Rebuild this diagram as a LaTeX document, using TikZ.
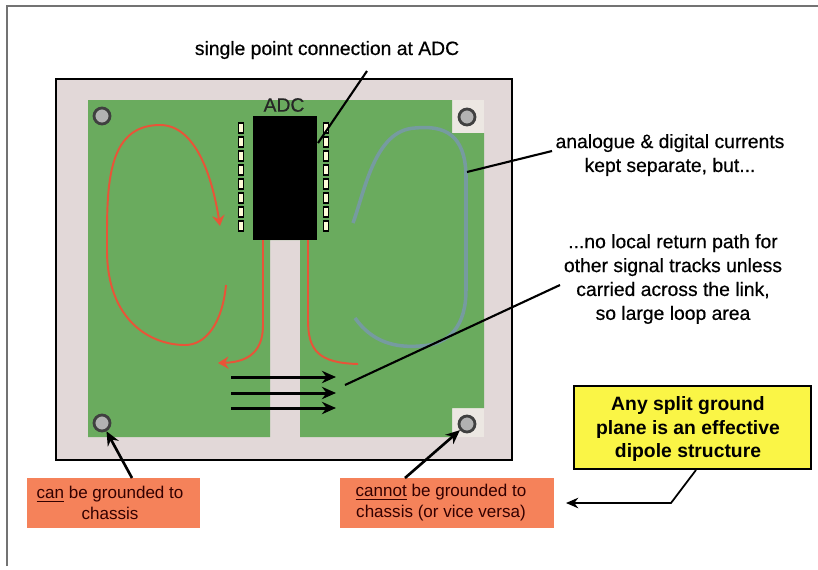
\documentclass[tikz,border=0pt]{standalone}
\usepackage{fontspec}
\setmainfont{Liberation Sans}
\newfontfamily\heavyfont{Liberation Sans}[FakeBold=0.5]
\usetikzlibrary{arrows.meta}
\definecolor{cboard}{RGB}{226,216,216}
\definecolor{cnotch}{RGB}{236,231,226}
\definecolor{cplane}{RGB}{106,171,94}
\definecolor{cnote}{RGB}{245,130,90}
\definecolor{cred}{RGB}{232,84,56}
\definecolor{cblue}{RGB}{118,155,160}
\definecolor{cyell}{RGB}{250,245,70}

\begin{document}
\begin{tikzpicture}[x=0.02cm, y=-0.02cm, font=\heavyfont\fontsize{11pt}{13.6pt}\selectfont,
    hole/.style={circle, draw=black!75, line width=1.6pt, fill=black!30, inner sep=0pt, minimum size=0.32cm},
    pad/.style={draw=black, line width=0.9pt, fill=white!85!yellow, inner sep=0pt, minimum width=0.1cm, minimum height=0.19cm},
    lbl/.style={align=center, text=black, inner sep=0pt},
    note/.style={fill=cnote, inner sep=0pt},
    notetext/.style={align=center, inner sep=0pt, font=\fontsize{9.7pt}{12pt}\selectfont, text=black!80!red},
    leader/.style={line width=1.2pt},
    pointer/.style={line width=1.5pt, -{Stealth[length=8pt, width=7pt]}},
    current/.style={cred, line width=1.1pt, -{Stealth[length=6pt, width=7pt]}},
    signal/.style={line width=1.7pt, -{Stealth[length=8pt, width=7pt]}}]

  \useasboundingbox (0,0) rectangle (818,569);
  \fill[white] (0,0) rectangle (818,569);
  \draw[black!55, line width=0.9pt] (7,566) -- (7,6) -- (818,6);

  % --- board and ground plane ---
  \draw[fill=cboard, line width=1.1pt] (56,79) rectangle (512,460);
  \fill[cnotch] (452,100) rectangle (484,133);
  \fill[cnotch] (452,408) rectangle (484,437);
  \fill[cplane] (88,100) -- (452,100) -- (452,133) -- (484,133) -- (484,408) -- (452,408) -- (452,437)
     -- (300,437) -- (300,240) -- (270,240) -- (270,437) -- (88,437) -- cycle;

  \node[hole] (holeTL) at (102,116) {};
  \node[hole] (holeTR) at (467,117) {};
  \node[hole] (holeBL) at (102,423) {};
  \node[hole] (holeBR) at (467,424) {};

  % --- adc ---
  \node[fill=black, minimum width=1.28cm, minimum height=2.48cm, inner sep=0pt] (adc) at (285,178) {};
  \node[lbl, text=black!85] (adclabel) at (284,105) {ADC};
  \foreach \y in {128,142,156,170,184,198,212,226} {
    \node[pad] at (241,\y) {};
    \node[pad] at (326,\y) {};
  }

  % --- currents ---
  \draw[current] (226,285) .. controls (222,325) and (205,345) .. (185,345)
     .. controls (150,345) and (107,320) .. (107,250)
     .. controls (107,190) and (105,125) .. (160,125)
     .. controls (195,125) and (212,175) .. (220,226);
  \draw[current] (263,240) -- (263,325) .. controls (263,350) and (250,362) .. (218,363);
  \draw[cred, line width=1.1pt] (308,240) -- (308,320) .. controls (308,350) and (318,363) .. (358,364);
  \draw[cblue, line width=2pt] (353,223) .. controls (365,190) and (375,130) .. (415,128)
     .. controls (445,125) and (465,135) .. (466,175) -- (466,290)
     .. controls (466,325) and (450,345) .. (420,346) .. controls (395,348) and (372,342) .. (355,318);

  \draw[signal] (231,377) -- (336,377);
  \draw[signal] (231,393) -- (336,393);
  \draw[signal] (231,408) -- (336,408);

  % --- texts ---
  \node[lbl] (single) at (327,50) {single point connection at ADC};
  \node[lbl] (kept) at (670,155) {analogue \& digital currents\\kept separate, but...};
  \node[lbl] (nolocal) at (673,279) {...no local return path for\\other signal tracks unless\\carried across the link,\\so large loop area};

  \node[note, minimum width=3.46cm, minimum height=1cm] (canbox) at (113.5,503) {};
  \node[notetext] (cantext) at (110,503) {\underline{can} be grounded to\\chassis};
  \node[note, minimum width=4.28cm, minimum height=1cm] (cannotbox) at (447,503) {};
  \node[notetext] (cannottext) at (441,503) {\underline{cannot} be grounded to\\chassis (or vice versa)};
  \node[draw, line width=1.2pt, fill=cyell, inner sep=0pt, minimum width=4.74cm, minimum height=1.66cm] (dipole) at (692.5,427.5) {};
  \node[lbl, font=\fontsize{11pt}{13.6pt}\selectfont\bfseries] (dipoletext) at (688,429) {Any split ground\\plane is an effective\\dipole structure};

  % --- leaders ---
  \coordinate (pinjoin) at (318,143);
  \coordinate (planeR) at (467,172);
  \coordinate (linktip) at (345,385);
  \coordinate (singlefoot) at (367,71);
  \coordinate (keptfoot) at (552,151);
  \coordinate (nolocalfoot) at (560,285);
  \coordinate (canfoot) at (132,478);
  \coordinate (cannotfoot) at (405,478);
  \coordinate (dipolefoot) at (696,470);
  \coordinate (dipolebend) at (671,503);
  \coordinate (cannotedge) at (566,503);

  \draw[leader] (singlefoot) -- (pinjoin);
  \draw[leader] (keptfoot) -- (planeR);
  \draw[leader] (nolocalfoot) -- (linktip);
  \draw[pointer] (canfoot) -- (holeBL);
  \draw[pointer] (cannotfoot) -- (holeBR);
  \draw[line width=1pt, -{Stealth[length=7pt, width=6pt]}] (dipolefoot) -- (dipolebend) -- (cannotedge);
\end{tikzpicture}
\end{document}
